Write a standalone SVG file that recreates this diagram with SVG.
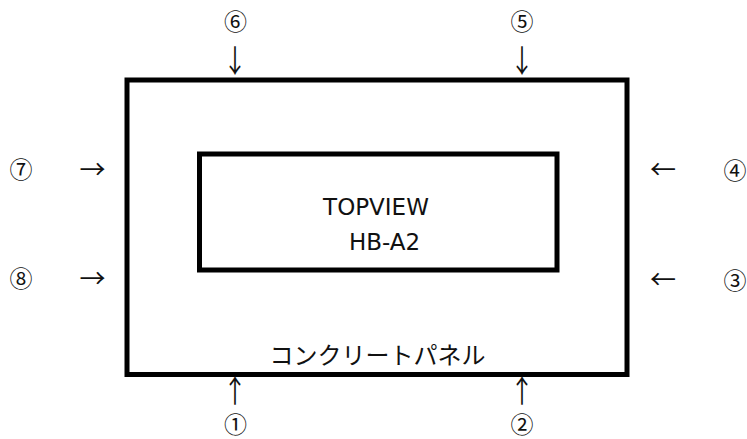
<svg xmlns="http://www.w3.org/2000/svg" width="747" height="439" viewBox="0 0 747 439">
<style>
  .box { fill: none; stroke: #000; stroke-width: 5; }
  .t { font-family: "Noto Sans CJK JP", "Noto Sans", sans-serif; fill: #111; text-anchor: middle; }
  .lat { font-family: "DejaVu Sans", "Noto Sans", sans-serif; font-size: 23px; fill: #111; text-anchor: middle; }
  .jp { font-size: 24px; }
  .num { font-size: 23px; }
  .harr { font-size: 26px; }
  .varr { font-size: 24px; }
</style>
<rect width="747" height="439" fill="#fff"/>
<g id="panel">
  <rect class="box" x="127" y="80" width="500" height="294.5"/>
  <text class="t jp" x="377.5" y="364">コンクリートパネル</text>
</g>
<g id="topview">
  <rect class="box" x="199.5" y="154" width="357.5" height="116"/>
  <text class="lat" x="376" y="215">TOPVIEW</text>
  <text class="lat" x="384.5" y="250">HB-A2</text>
</g>
<g id="connectors">
  <text class="t varr" transform="translate(235,72) scale(1,1.3)">↓</text>
  <text class="t varr" transform="translate(522,72) scale(1,1.3)">↓</text>
  <text class="t harr" x="92.5" y="178.5">→</text>
  <text class="t harr" x="92.5" y="287.5">→</text>
  <text class="t harr" x="663" y="178.5">←</text>
  <text class="t harr" x="663" y="288.5">←</text>
  <text class="t varr" transform="translate(235,402) scale(1,1.3)">↑</text>
  <text class="t varr" transform="translate(522,402) scale(1,1.3)">↑</text>
</g>
<g id="labels">
  <text class="t num" x="235.5" y="30">⑥</text>
  <text class="t num" x="522" y="30">⑤</text>
  <text class="t num" x="21" y="178">⑦</text>
  <text class="t num" x="21" y="287">⑧</text>
  <text class="t num" x="735" y="179">④</text>
  <text class="t num" x="735" y="289">③</text>
  <text class="t num" x="235.5" y="433">①</text>
  <text class="t num" x="522" y="433">②</text>
</g>
</svg>
